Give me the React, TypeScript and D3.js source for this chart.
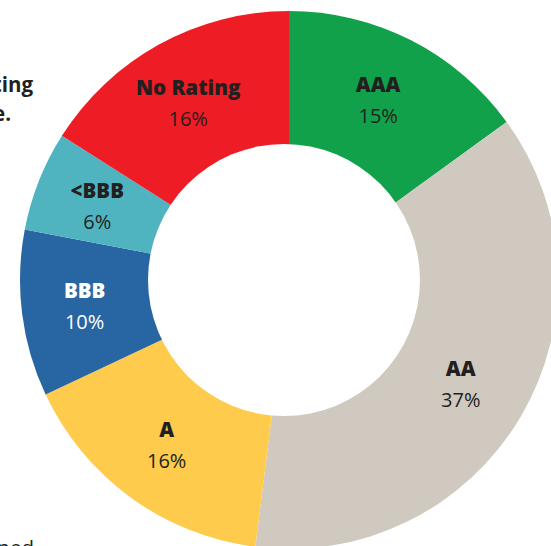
import React from "react";
import * as d3 from "d3";

const categories = ["AAA", "AA", "A", "BBB", "<BBB", "No Rating"];
const shares = [15, 37, 16, 10, 6, 16];
const colors = ["#11a14a", "#cfc9bf", "#fecb4d", "#2866a3", "#4fb4bf", "#ee1d25"];
const labelColors = ["#231f20", "#231f20", "#231f20", "#ffffff", "#231f20", "#231f20"];

const W = 551;
const H = 546;
const cx = 289;
const cy = 280;
const outerR = 269;
const holeCx = 284;
const holeR = 136;
const labelR = 203;

export default function App() {
  const data = categories.map((c, i) => ({ cat: c, v: shares[i], color: colors[i], lc: labelColors[i] }));
  const pie = d3.pie<any>().value((d: any) => d.v).sort(null);
  const arcs = pie(data);
  const arc = d3.arc<any>().innerRadius(0).outerRadius(outerR);
  const labelArc = d3.arc<any>().innerRadius(labelR).outerRadius(labelR);
  const font = "'Open Sans', sans-serif";
  return (
    <svg width={W} height={H} style={{ position: "absolute", left: 0, top: 0, background: "#fff" }}>
      <g transform={`translate(${cx},${cy})`}>
        {arcs.map((a, i) => (
          <path key={i} d={arc(a) as string} fill={a.data.color} />
        ))}
      </g>
      <circle cx={holeCx} cy={cy} r={holeR} fill="#fff" />
      <g transform={`translate(${cx - 3},${cy + 1})`}>
        {arcs.map((a, i) => {
          const [x, y] = labelArc.centroid(a);
          return (
            <g key={i} transform={`translate(${x},${y})`} fontFamily={font} fill={a.data.lc} textAnchor="middle">
              <text y={-8} fontSize={20.5} fontWeight={800}>{a.data.cat}</text>
              <text y={23} fontSize={20} fontWeight={400}>{a.data.v}%</text>
            </g>
          );
        })}
      </g>
      <g fontFamily={font} fill="#231f20" fontSize={20.5}>
        <text x={33} y={92} textAnchor="end" fontWeight={700}>Rating</text>
        <text x={11} y={121} textAnchor="end" fontWeight={700}>able.</text>
        <text x={34} y={555} textAnchor="end" fontWeight={400}>owned</text>
      </g>
    </svg>
  );
}
